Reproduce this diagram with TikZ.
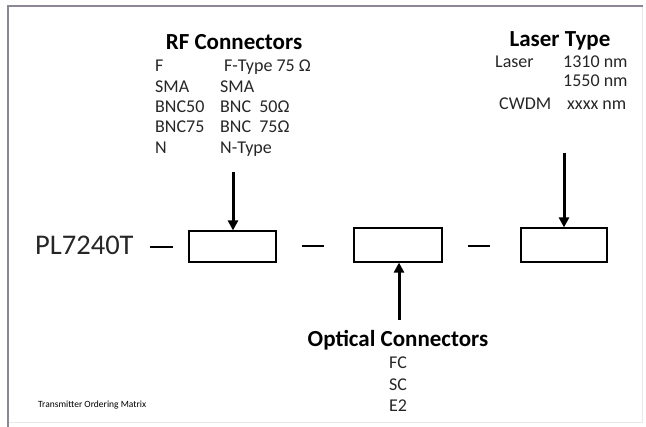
\documentclass[tikz,border=0pt]{standalone}
\usepackage{fontspec}
\setmainfont{Carlito}
\usetikzlibrary{arrows.meta}
\definecolor{framedark}{RGB}{140,134,150}
\definecolor{framelight}{RGB}{232,232,236}
\begin{document}
\begin{tikzpicture}[x=1pt,y=-1pt,
  head/.style={font=\fontsize{23}{25}\selectfont\bfseries, inner sep=0pt},
  item/.style={font=\fontsize{18}{20}\selectfont, inner sep=0pt, text=black!85},
  slot/.style={draw, line width=1.2pt, minimum width=#1, minimum height=33pt, inner sep=0pt},
  feed/.style={line width=3pt, -{Triangle[width=10pt,length=10pt]}},
  dashbar/.style={line width=2pt},
]
\useasboundingbox (0,0) rectangle (646,427);
% frame
\draw[framelight, line width=1pt] (642,6) -- (642,423) -- (8,423);
\draw[framedark, line width=1.5pt] (8,427) -- (8,6) -- (643,6);

% headings
\node[head, anchor=base] (rfh) at (234,50) {RF Connectors};
\node[head, anchor=base] (lth) at (560,47) {Laser Type};
\node[head, anchor=base] (och) at (398,347) {Optical Connectors};

% RF list
\node[item, anchor=base west] (rf1a) at (155,72) {F};
\node[item, anchor=base west] (rf1b) at (224,72) {F-Type 75 Ω};
\node[item, anchor=base west] (rf2a) at (155,93) {SMA};
\node[item, anchor=base west] (rf2b) at (220,93) {SMA};
\node[item, anchor=base west] (rf3a) at (155,113) {BNC50};
\node[item, anchor=base west] (rf3b) at (220,113) {BNC~~50Ω};
\node[item, anchor=base west] (rf4a) at (155,133) {BNC75};
\node[item, anchor=base west] (rf4b) at (220,133) {BNC~~75Ω};
\node[item, anchor=base west] (rf5a) at (155,154) {N};
\node[item, anchor=base west] (rf5b) at (220,154) {N-Type};

% Laser list
\node[item, anchor=base west] (ls1a) at (495,68) {Laser};
\node[item, anchor=base west] (ls1b) at (563,68) {1310~nm};
\node[item, anchor=base west] (ls2b) at (563,87) {1550~nm};
\node[item, anchor=base west] (ls3a) at (499,110) {CWDM};
\node[item, anchor=base west] (ls3b) at (567,110) {xxxx~nm};

% Optical list
\node[item, anchor=base] (oc1) at (398,369) {FC};
\node[item, anchor=base] (oc2) at (398,391) {SC};
\node[item, anchor=base] (oc3) at (398,412) {E2};

% part number
\node[font=\fontsize{28.5}{30}\selectfont, inner sep=0pt, anchor=base west, text=black!85] (pn) at (35,255) {PL7240T};

% slots
\node[slot=87pt, minimum height=31pt] (b1) at (232.5,246.5) {};
\node[slot=88pt, minimum height=34pt] (b2) at (398,245) {};
\node[slot=86pt, minimum height=34pt] (b3) at (564,245) {};

% dashes
\draw[dashbar] (150,247) -- (173,247);
\draw[dashbar] (302,246) -- (324,246);
\draw[dashbar] (468,246) -- (490,246);

% arrows
\coordinate (a1) at (233,172);
\coordinate (a3) at (564,153);
\coordinate (a2) at (399,320);
\draw[feed] (a1) -- (b1.north -| a1);
\draw[feed] (a3) -- (b3.north -| a3);
\draw[feed] (a2) -- (b2.south -| a2);

% footer
\node[font=\fontsize{9.5}{11}\selectfont, inner sep=0pt, anchor=base west] (ft) at (38,408) {Transmitter Ordering Matrix};
\end{tikzpicture}
\end{document}
